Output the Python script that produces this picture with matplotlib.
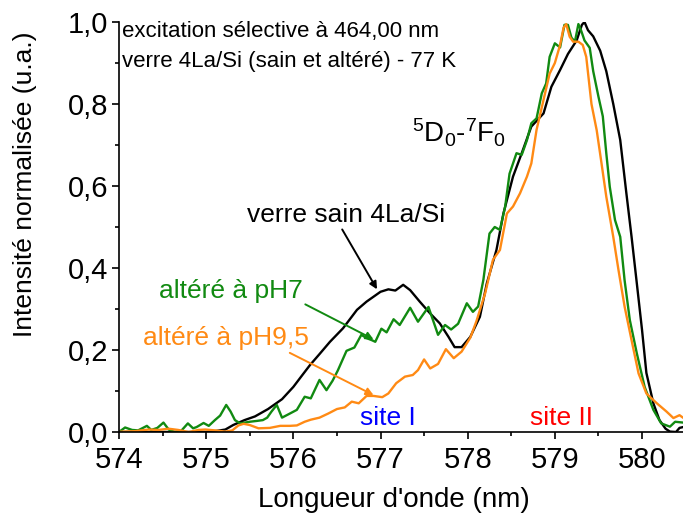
import numpy as np
import matplotlib
matplotlib.use("Agg")
import matplotlib.pyplot as plt
from matplotlib.ticker import MultipleLocator, FuncFormatter

plt.rcParams['font.family'] = ['Liberation Sans', 'DejaVu Sans']
plt.rcParams['mathtext.default'] = 'regular'

# verre sain 4La/Si (black)
x_sain = [574.0, 574.5, 575.0, 575.1, 575.22, 575.31, 575.44, 575.56, 575.71, 575.87,
          576.0, 576.1, 576.19, 576.3, 576.42, 576.57, 576.73, 576.84, 577.0, 577.09,
          577.17, 577.26, 577.34, 577.45, 577.57, 577.68, 577.78, 577.85, 577.93, 578.03,
          578.14, 578.22, 578.33, 578.41, 578.52, 578.62, 578.73, 578.87, 578.96, 579.06,
          579.15, 579.25, 579.31, 579.34, 579.38, 579.44, 579.52, 579.59, 579.67, 579.75,
          579.82, 579.88, 579.94, 580.0, 580.05, 580.13, 580.2, 580.27, 580.32, 580.39,
          580.43, 580.47]
y_sain = [0.0, 0.0, 0.0, 0.002, 0.006, 0.017, 0.029, 0.038, 0.056, 0.08,
          0.11, 0.138, 0.163, 0.19, 0.22, 0.253, 0.298, 0.318, 0.342, 0.348,
          0.345, 0.359, 0.346, 0.318, 0.289, 0.265, 0.232, 0.207, 0.207, 0.232,
          0.281, 0.363, 0.444, 0.533, 0.623, 0.68, 0.745, 0.777, 0.842, 0.883,
          0.922, 0.955, 0.993, 1.0, 0.98, 0.965, 0.93, 0.88, 0.80, 0.712,
          0.583, 0.476, 0.363, 0.249, 0.144, 0.07, 0.029, 0.008, 0.001, 0.0,
          0.01, 0.012]

# altéré à pH7 (green)
x_ph7 = [574.0, 574.07, 574.15, 574.22, 574.32, 574.37, 574.44, 574.51, 574.57, 574.64,
         574.71, 574.79, 574.85, 574.89, 574.97, 575.03, 575.1, 575.16, 575.23, 575.28,
         575.33, 575.39, 575.5, 575.58, 575.65, 575.7, 575.75, 575.81, 575.87, 575.96,
         576.04, 576.13, 576.2, 576.3, 576.38, 576.45, 576.51, 576.61, 576.7, 576.78,
         576.84, 576.9, 576.94, 577.01, 577.07, 577.15, 577.22, 577.34, 577.43, 577.55,
         577.66, 577.74, 577.81, 577.89, 577.99, 578.06, 578.12, 578.18, 578.25, 578.31,
         578.37, 578.43, 578.48, 578.56, 578.62, 578.68, 578.73, 578.79, 578.85, 578.9,
         578.94, 579.0, 579.06, 579.11, 579.15, 579.19, 579.23, 579.27, 579.3, 579.34,
         579.4, 579.44, 579.5, 579.55, 579.59, 579.63, 579.69, 579.75, 579.8, 579.86,
         579.94, 580.03, 580.13, 580.22, 580.32, 580.38, 580.47]
y_ph7 = [0.0, 0.011, 0.005, 0.004, 0.015, 0.005, 0.01, 0.023, 0.006, 0.0,
         0.002, 0.021, 0.009, 0.012, 0.022, 0.015, 0.029, 0.04, 0.066, 0.05,
         0.029, 0.021, 0.025, 0.027, 0.029, 0.035, 0.05, 0.066, 0.035, 0.045,
         0.054, 0.086, 0.082, 0.127, 0.102, 0.125, 0.15, 0.198, 0.206, 0.237,
         0.229, 0.224, 0.22, 0.252, 0.243, 0.275, 0.261, 0.303, 0.269, 0.305,
         0.237, 0.261, 0.25, 0.264, 0.314, 0.293, 0.306, 0.371, 0.484, 0.5,
         0.493, 0.55, 0.63, 0.68, 0.676, 0.712, 0.753, 0.765, 0.826, 0.85,
         0.915, 0.948, 0.938, 0.993, 0.993, 0.962, 0.952, 0.995, 0.98, 0.955,
         0.937, 0.88, 0.818, 0.77, 0.68, 0.598, 0.517, 0.476, 0.37, 0.273,
         0.192, 0.11, 0.054, 0.021, 0.013, 0.025, 0.023]

# altéré à pH9,5 (orange)
x_ph95 = [574.0, 574.03, 574.18, 574.34, 574.45, 574.57, 574.68, 574.8, 574.91, 574.99,
          575.1, 575.22, 575.3, 575.37, 575.43, 575.5, 575.6, 575.73, 575.85, 575.96,
          576.04, 576.13, 576.2, 576.3, 576.4, 576.5, 576.59, 576.67, 576.75, 576.84,
          576.92, 577.02, 577.09, 577.18, 577.28, 577.37, 577.43, 577.5, 577.57, 577.66,
          577.75, 577.84, 577.93, 578.03, 578.1, 578.2, 578.29, 578.37, 578.45, 578.52,
          578.6, 578.68, 578.73, 578.79, 578.87, 578.94, 579.0, 579.06, 579.1, 579.13,
          579.17, 579.21, 579.27, 579.32, 579.36, 579.42, 579.48, 579.53, 579.59, 579.67,
          579.73, 579.8, 579.88, 579.96, 580.05, 580.17, 580.28, 580.36, 580.43, 580.47]
y_ph95 = [0.0, 0.001, 0.002, 0.006, 0.005, 0.008, 0.005, 0.0, 0.005, 0.006,
          0.004, 0.001, 0.004, 0.016, 0.02, 0.017, 0.009, 0.01, 0.015, 0.015,
          0.016, 0.025, 0.03, 0.035, 0.045, 0.056, 0.06, 0.074, 0.07, 0.088,
          0.088, 0.085, 0.094, 0.119, 0.135, 0.139, 0.151, 0.177, 0.155, 0.166,
          0.202, 0.18, 0.196, 0.23, 0.27, 0.338, 0.42, 0.444, 0.533, 0.55,
          0.582, 0.623, 0.655, 0.737, 0.81, 0.874, 0.90, 0.944, 0.986, 0.995,
          0.964, 0.952, 0.952, 0.944, 0.915, 0.80, 0.736, 0.663, 0.574, 0.476,
          0.395, 0.306, 0.224, 0.143, 0.094, 0.07, 0.05, 0.034, 0.041, 0.035]

c_green = '#118a11'
c_orange = '#ff8a14'

fig = plt.figure(figsize=(6.83, 5.14), dpi=100)
ax = fig.add_axes([119/683, 82/514, 564/683, 410/514])

ax.plot(x_sain, y_sain, color='black', lw=1.7)
ax.plot(x_ph7, y_ph7, color=c_green, lw=1.7)
ax.plot(x_ph95, y_ph95, color=c_orange, lw=1.7)

ax.set_xlim(574, 580.47)
ax.set_ylim(0, 1.0)
ax.spines['top'].set_visible(False)
ax.spines['right'].set_visible(False)
for s in ('left', 'bottom'):
    ax.spines[s].set_linewidth(1.2)

ax.xaxis.set_major_locator(MultipleLocator(1))
ax.xaxis.set_minor_locator(MultipleLocator(0.5))
ax.yaxis.set_major_locator(MultipleLocator(0.2))
ax.yaxis.set_minor_locator(MultipleLocator(0.1))
ax.yaxis.set_major_formatter(FuncFormatter(lambda v, p: f"{v:.1f}".replace('.', ',')))
ax.tick_params(which='major', direction='out', length=5, width=1.2, labelsize=21, pad=3)
ax.tick_params(axis='x', which='major', pad=5)
ax.tick_params(which='minor', direction='out', length=3, width=1.2)

ax.set_xlabel("Longueur d'onde (nm)", fontsize=20, va='center')
ax.xaxis.set_label_coords(0.488, -0.165)
ax.set_ylabel("Intensité normalisée (u.a.)", fontsize=19, va='center')
ax.yaxis.set_label_coords(-0.1667, 0.605)

ax.text(574.04, 0.964, "excitation sélective à 464,00 nm", fontsize=16, va='baseline')
ax.text(574.04, 0.891, "verre 4La/Si (sain et altéré) - 77 K", fontsize=16, va='baseline')
ax.text(577.36, 0.705, r"$^{5}$D$_{0}$-$^{7}$F$_{0}$", fontsize=20, va='baseline')

arrow = dict(arrowstyle='-|>', lw=1.4, mutation_scale=11, shrinkA=0, shrinkB=0)
ax.annotate("verre sain 4La/Si", xy=(576.96, 0.348), xytext=(576.61, 0.513),
            fontsize=19, ha='center', va='baseline', color='black',
            arrowprops=dict(arrow, color='black', relpos=(0.47, 0.0)))
ax.annotate("altéré à pH7", xy=(576.92, 0.226), xytext=(575.28, 0.327),
            fontsize=19, ha='center', va='baseline', color=c_green,
            arrowprops=dict(arrow, color=c_green, relpos=(1.0, 0.0)))
ax.annotate("altéré à pH9,5", xy=(576.92, 0.09), xytext=(575.23, 0.212),
            fontsize=19, ha='center', va='baseline', color=c_orange,
            arrowprops=dict(arrow, color=c_orange, relpos=(0.85, 0.0)))

ax.text(577.09, 0.017, "site I", fontsize=19, ha='center', va='baseline', color='#0000ff')
ax.text(579.08, 0.017, "site II", fontsize=19, ha='center', va='baseline', color='#ff0000')

fig.savefig("out.png", dpi=100)
